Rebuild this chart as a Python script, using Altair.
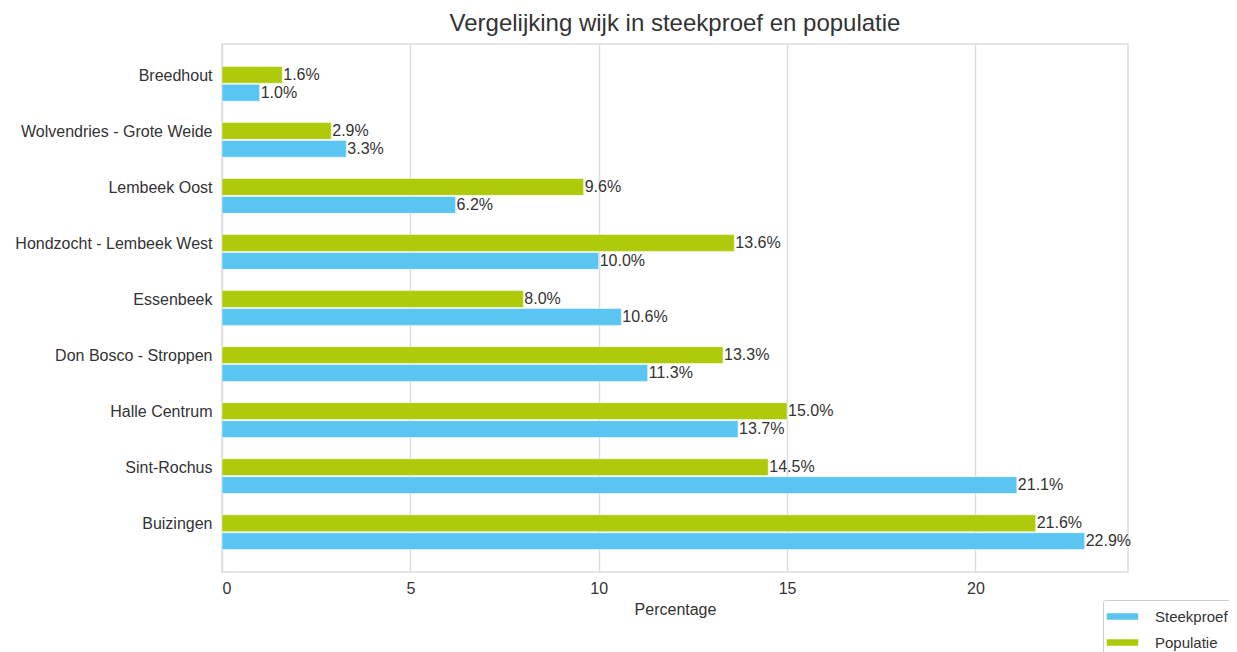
import altair as alt
import pandas as pd

wijken = ["Breedhout", "Wolvendries - Grote Weide", "Lembeek Oost", "Hondzocht - Lembeek West",
          "Essenbeek", "Don Bosco - Stroppen", "Halle Centrum", "Sint-Rochus", "Buizingen"]
populatie = [1.6, 2.9, 9.6, 13.6, 8.0, 13.3, 15.0, 14.5, 21.6]
steekproef = [1.0, 3.3, 6.2, 10.0, 10.6, 11.3, 13.7, 21.1, 22.9]
series = ["Steekproef", "Populatie"]
colors = ["#5bc5f1", "#afca0b"]

rows = []
for w, p, s in zip(wijken, populatie, steekproef):
    rows.append({"wijk": w, "reeks": "Populatie", "waarde": p})
    rows.append({"wijk": w, "reeks": "Steekproef", "waarde": s})
df = pd.DataFrame(rows)

FONT = "Liberation Sans"
FS = 16

base = alt.Chart(df).encode(
    y=alt.Y("wijk:N", sort=wijken, title=None,
            scale=alt.Scale(paddingInner=0.38, paddingOuter=0.4),
            axis=alt.Axis(labelFontSize=FS, labelColor="#333333", labelFont=FONT,
                          ticks=False, domain=False, labelPadding=10, grid=False,
                          labelOffset=-8, labelLimit=400)),
    yOffset=alt.YOffset("reeks:N", sort=["Populatie", "Steekproef"],
                        scale=alt.Scale(paddingInner=0.06, paddingOuter=0)),
)

bars = base.mark_bar(stroke="white", strokeWidth=0.5).encode(
    x=alt.X("waarde:Q", title="Percentage",
            scale=alt.Scale(domain=[0, 24.05], nice=False),
            axis=alt.Axis(values=[0, 5, 10, 15, 20], labelFontSize=FS, labelColor="#333333",
                          labelFont=FONT, titleFont=FONT, titleFontSize=FS, titleFontWeight="normal",
                          titleColor="#333333", ticks=False, domain=False, labelPadding=8,
                          titlePadding=5, gridColor="#dddddd", gridWidth=1.5)),
    color=alt.Color("reeks:N", scale=alt.Scale(domain=series, range=colors), title=None,
                    legend=alt.Legend(orient="none", legendX=881, legendY=556,
                                      symbolType="M-1.5,-0.3H1.5V0.3H-1.5Z", symbolSize=440,
                                      symbolStrokeWidth=0, symbolOffset=3,
                                      labelFontSize=15, labelFont=FONT,
                                      labelColor="#333333", strokeColor="#cccccc", padding=6,
                                      cornerRadius=2, fillColor="white", rowPadding=7,
                                      labelOffset=22)),
)

text = base.transform_calculate(
    lbl="format(datum.waarde, '.1f') + '%'"
).mark_text(align="left", baseline="middle", dx=1, fontSize=FS, font=FONT, color="#333333").encode(
    x="waarde:Q",
    text="lbl:N",
)

chart = (bars + text).properties(
    width=906, height=528,
    padding={"left": 214, "top": 36, "right": 101, "bottom": 80},
    autosize=alt.AutoSizeParams(type="none"),
    title=alt.TitleParams("Vergelijking wijk in steekproef en populatie", fontSize=24,
                          font=FONT, fontWeight="normal", color="#333333", offset=8),
).configure_view(stroke="#dddddd", strokeWidth=1.5)

chart.save("out.html", embed_options={"renderer": "svg", "actions": False})
